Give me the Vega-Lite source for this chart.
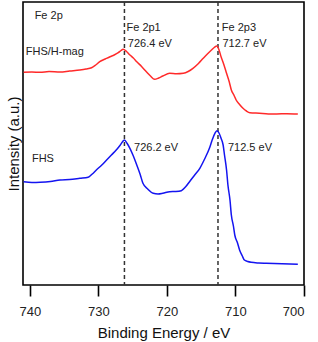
{
  "$schema": "https://vega.github.io/schema/vega-lite/v6.json",
  "autosize": {"type": "none"},
  "padding": {"left": 23, "top": 2, "right": 14, "bottom": 57},
  "width": 281,
  "height": 283,
  "config": {
    "font": "Liberation Sans",
    "view": {"stroke": "#000000", "strokeWidth": 1.6}
  },
  "datasets": {
    "spectra": [
      {"e": 740.9, "i": 212.7, "s": "FHS/H-mag"}, {"e": 739.7, "i": 213, "s": "FHS/H-mag"}, {"e": 738.5, "i": 212.7, "s": "FHS/H-mag"}, {"e": 737.2, "i": 213.5, "s": "FHS/H-mag"}, {"e": 735.6, "i": 213, "s": "FHS/H-mag"}, {"e": 734.2, "i": 214, "s": "FHS/H-mag"}, {"e": 732.7, "i": 215, "s": "FHS/H-mag"}, {"e": 731.8, "i": 216, "s": "FHS/H-mag"}, {"e": 731.0, "i": 217.3, "s": "FHS/H-mag"}, {"e": 730.4, "i": 220, "s": "FHS/H-mag"}, {"e": 729.8, "i": 223.3, "s": "FHS/H-mag"}, {"e": 729.0, "i": 226, "s": "FHS/H-mag"}, {"e": 728.3, "i": 228.3, "s": "FHS/H-mag"}, {"e": 727.7, "i": 230, "s": "FHS/H-mag"}, {"e": 727.1, "i": 232.3, "s": "FHS/H-mag"}, {"e": 726.7, "i": 234.5, "s": "FHS/H-mag"}, {"e": 726.4, "i": 235.7, "s": "FHS/H-mag"}, {"e": 725.9, "i": 233.5, "s": "FHS/H-mag"}, {"e": 725.4, "i": 230, "s": "FHS/H-mag"}, {"e": 724.9, "i": 227, "s": "FHS/H-mag"}, {"e": 724.4, "i": 223.3, "s": "FHS/H-mag"}, {"e": 723.7, "i": 218.5, "s": "FHS/H-mag"}, {"e": 723.0, "i": 213.3, "s": "FHS/H-mag"}, {"e": 722.4, "i": 209, "s": "FHS/H-mag"}, {"e": 721.8, "i": 205.7, "s": "FHS/H-mag"}, {"e": 721.2, "i": 207, "s": "FHS/H-mag"}, {"e": 720.6, "i": 209, "s": "FHS/H-mag"}, {"e": 719.6, "i": 211.7, "s": "FHS/H-mag"}, {"e": 718.6, "i": 211.2, "s": "FHS/H-mag"}, {"e": 717.6, "i": 211.7, "s": "FHS/H-mag"}, {"e": 716.9, "i": 213.5, "s": "FHS/H-mag"}, {"e": 716.2, "i": 216.7, "s": "FHS/H-mag"}, {"e": 715.4, "i": 221.5, "s": "FHS/H-mag"}, {"e": 714.7, "i": 226.7, "s": "FHS/H-mag"}, {"e": 714.1, "i": 231, "s": "FHS/H-mag"}, {"e": 713.5, "i": 235, "s": "FHS/H-mag"}, {"e": 713.1, "i": 237.5, "s": "FHS/H-mag"}, {"e": 712.7, "i": 239, "s": "FHS/H-mag"}, {"e": 712.4, "i": 235, "s": "FHS/H-mag"}, {"e": 712.1, "i": 228.3, "s": "FHS/H-mag"}, {"e": 711.7, "i": 220.5, "s": "FHS/H-mag"}, {"e": 711.3, "i": 211.7, "s": "FHS/H-mag"}, {"e": 710.9, "i": 203, "s": "FHS/H-mag"}, {"e": 710.6, "i": 195, "s": "FHS/H-mag"}, {"e": 710.2, "i": 189.5, "s": "FHS/H-mag"}, {"e": 709.9, "i": 185, "s": "FHS/H-mag"}, {"e": 709.4, "i": 180.5, "s": "FHS/H-mag"}, {"e": 708.9, "i": 176.7, "s": "FHS/H-mag"}, {"e": 708.4, "i": 174, "s": "FHS/H-mag"}, {"e": 707.9, "i": 172.3, "s": "FHS/H-mag"}, {"e": 706.5, "i": 171.7, "s": "FHS/H-mag"}, {"e": 705.2, "i": 171, "s": "FHS/H-mag"}, {"e": 704.0, "i": 171, "s": "FHS/H-mag"}, {"e": 702.5, "i": 171.3, "s": "FHS/H-mag"}, {"e": 700.9, "i": 171, "s": "FHS/H-mag"},
      {"e": 740.9, "i": 103.3, "s": "FHS"}, {"e": 739.7, "i": 102.5, "s": "FHS"}, {"e": 738.5, "i": 102.7, "s": "FHS"}, {"e": 737.0, "i": 103.5, "s": "FHS"}, {"e": 735.6, "i": 105, "s": "FHS"}, {"e": 734.2, "i": 105.5, "s": "FHS"}, {"e": 732.7, "i": 106.7, "s": "FHS"}, {"e": 731.5, "i": 107.7, "s": "FHS"}, {"e": 730.9, "i": 111, "s": "FHS"}, {"e": 730.3, "i": 115, "s": "FHS"}, {"e": 729.5, "i": 120, "s": "FHS"}, {"e": 728.8, "i": 125, "s": "FHS"}, {"e": 728.1, "i": 130, "s": "FHS"}, {"e": 727.4, "i": 135, "s": "FHS"}, {"e": 726.8, "i": 140, "s": "FHS"}, {"e": 726.2, "i": 145, "s": "FHS"}, {"e": 725.8, "i": 141.5, "s": "FHS"}, {"e": 725.4, "i": 136.7, "s": "FHS"}, {"e": 724.9, "i": 129, "s": "FHS"}, {"e": 724.4, "i": 120, "s": "FHS"}, {"e": 723.9, "i": 110.5, "s": "FHS"}, {"e": 723.5, "i": 101.7, "s": "FHS"}, {"e": 722.8, "i": 96, "s": "FHS"}, {"e": 722.0, "i": 91.7, "s": "FHS"}, {"e": 721.3, "i": 91, "s": "FHS"}, {"e": 720.6, "i": 91.7, "s": "FHS"}, {"e": 719.6, "i": 93.3, "s": "FHS"}, {"e": 718.7, "i": 93.5, "s": "FHS"}, {"e": 717.9, "i": 94.3, "s": "FHS"}, {"e": 717.3, "i": 98, "s": "FHS"}, {"e": 716.7, "i": 103.3, "s": "FHS"}, {"e": 716.0, "i": 109.5, "s": "FHS"}, {"e": 715.2, "i": 116.7, "s": "FHS"}, {"e": 714.5, "i": 126, "s": "FHS"}, {"e": 713.8, "i": 136.7, "s": "FHS"}, {"e": 713.4, "i": 145, "s": "FHS"}, {"e": 713.0, "i": 151.7, "s": "FHS"}, {"e": 712.7, "i": 154.3, "s": "FHS"}, {"e": 712.4, "i": 152, "s": "FHS"}, {"e": 712.1, "i": 146.7, "s": "FHS"}, {"e": 711.8, "i": 140, "s": "FHS"}, {"e": 711.6, "i": 130, "s": "FHS"}, {"e": 711.3, "i": 115, "s": "FHS"}, {"e": 711.1, "i": 100, "s": "FHS"}, {"e": 710.8, "i": 85, "s": "FHS"}, {"e": 710.6, "i": 70, "s": "FHS"}, {"e": 710.3, "i": 59, "s": "FHS"}, {"e": 710.1, "i": 50, "s": "FHS"}, {"e": 709.7, "i": 42, "s": "FHS"}, {"e": 709.4, "i": 35, "s": "FHS"}, {"e": 709.0, "i": 29, "s": "FHS"}, {"e": 708.7, "i": 25, "s": "FHS"}, {"e": 708.2, "i": 23.5, "s": "FHS"}, {"e": 707.7, "i": 22.7, "s": "FHS"}, {"e": 706.6, "i": 22, "s": "FHS"}, {"e": 705.5, "i": 21.7, "s": "FHS"}, {"e": 703.2, "i": 21.2, "s": "FHS"}, {"e": 700.9, "i": 20.7, "s": "FHS"}
    ],
    "peaks": [{"e": 726.2}, {"e": 712.55}],
    "labels": [
      {"e": 739.3, "i": 269.3, "t": "Fe 2p"},
      {"e": 740.6, "i": 233, "t": "FHS/H-mag"},
      {"e": 725.9, "i": 257, "t": "Fe 2p1"},
      {"e": 725.7, "i": 241, "t": "726.4 eV"},
      {"e": 712.0, "i": 257, "t": "Fe 2p3"},
      {"e": 711.9, "i": 241, "t": "712.7 eV"},
      {"e": 724.8, "i": 136.7, "t": "726.2 eV"},
      {"e": 711.1, "i": 136.7, "t": "712.5 eV"},
      {"e": 739.7, "i": 126, "t": "FHS"}
    ]
  },
  "layer": [
    {
      "data": {"name": "peaks"},
      "mark": {"type": "rule", "color": "#333333", "strokeWidth": 1.5, "strokeDash": [4, 3]},
      "encoding": {
        "x": {
          "field": "e", "type": "quantitative",
          "scale": {"domain": [700, 741], "reverse": true, "nice": false, "zero": false},
          "axis": {
            "values": [740, 735, 730, 725, 720, 715, 710, 705, 700],
            "labelExpr": "datum.value % 10 == 0 ? datum.label : ''",
            "tickSize": {"condition": {"test": "datum.value % 10 == 0", "value": 11}, "value": 7},
            "tickColor": "#000000",
            "tickWidth": 1.6,
            "domain": false,
            "grid": false,
            "labelFontSize": 13,
            "labelColor": "#222222",
            "labelPadding": 9,
            "title": "Binding Energy / eV",
            "titleFontSize": 15,
            "titleFontWeight": "normal",
            "titleColor": "#111111",
            "titlePadding": 7
          }
        }
      }
    },
    {
      "data": {"name": "spectra"},
      "mark": {"type": "line", "strokeWidth": 1.5, "interpolate": "monotone"},
      "encoding": {
        "x": {"field": "e", "type": "quantitative"},
        "y": {
          "field": "i", "type": "quantitative",
          "scale": {"domain": [0, 283], "nice": false, "zero": false},
          "axis": {
            "labels": false, "ticks": false, "domain": false, "grid": false,
            "title": "Intensity (a.u.)",
            "titleFontSize": 15,
            "titleFontWeight": "normal",
            "titleColor": "#111111",
            "titlePadding": 2
          }
        },
        "color": {
          "field": "s", "type": "nominal",
          "scale": {"domain": ["FHS/H-mag", "FHS"], "range": ["#ff2a2a", "#1414f0"]},
          "legend": null
        },
        "detail": {"field": "s"}
      }
    },
    {
      "data": {"name": "labels"},
      "mark": {"type": "text", "align": "left", "baseline": "middle", "fontSize": 11, "color": "#222222"},
      "encoding": {
        "x": {"field": "e", "type": "quantitative"},
        "y": {"field": "i", "type": "quantitative"},
        "text": {"field": "t"}
      }
    }
  ]
}
